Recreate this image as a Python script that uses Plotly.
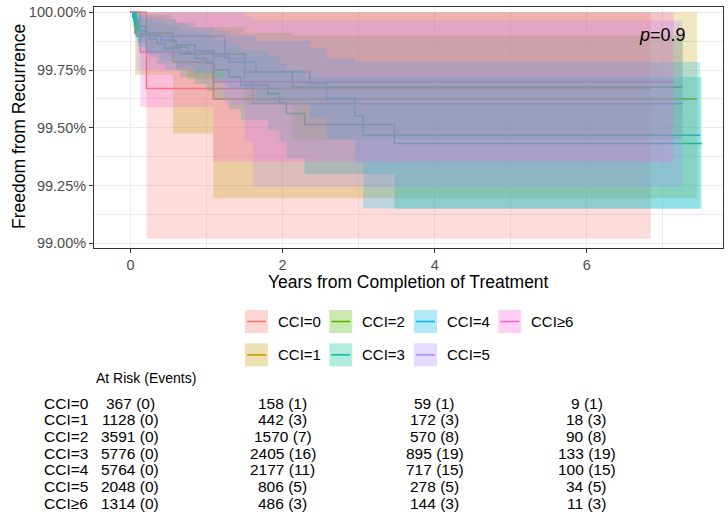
import plotly.graph_objects as go

# ---------------- data ----------------
groups = ["CCI=0", "CCI=1", "CCI=2", "CCI=3", "CCI=4", "CCI=5", "CCI≥6"]
colors = ["#F8766D", "#C49A00", "#53B400", "#00C094", "#00B6EB", "#A58AFF", "#FB61D7"]

# step times (years) and survival (%), CI lower / upper at each step
t_cci0 = [0, 0.21]
s_cci0 = [100, 99.67]
lo_cci0 = [100, 99.02]
hi_cci0 = [100, 100]
end_cci0 = 6.84

t_cci1 = [0, 0.06, 0.56, 1.09]
s_cci1 = [100, 99.908, 99.785, 99.625]
lo_cci1 = [100, 99.73, 99.476, 99.195]
hi_cci1 = [100, 100, 100, 100]
end_cci1 = 7.45

t_cci2 = [0, 0.05, 0.10, 0.20, 0.55, 0.60, 0.75, 1.50, 2.13]
s_cci2 = [100, 99.97, 99.94, 99.91, 99.875, 99.85, 99.82, 99.742, 99.677]
lo_cci2 = [100, 99.91, 99.87, 99.83, 99.79, 99.75, 99.71, 99.60, 99.45]
hi_cci2 = [100, 100, 100, 99.99, 99.97, 99.955, 99.935, 99.91, 99.90]
end_cci2 = 7.26

t_cci3 = [0, 0.04, 0.06, 0.10, 0.15, 0.25, 0.35, 0.45, 0.65, 0.85, 1.00, 1.10, 1.30, 1.45,
          1.81, 1.96, 2.05, 2.29, 3.47]
s_cci3 = [100, 99.975, 99.95, 99.925, 99.905, 99.885, 99.865, 99.845, 99.82, 99.80, 99.78,
          99.75, 99.72, 99.684, 99.648, 99.608, 99.562, 99.514, 99.432]
lo_cci3 = [100, 99.93, 99.90, 99.865, 99.835, 99.805, 99.775, 99.75, 99.72, 99.69, 99.66,
           99.62, 99.58, 99.534, 99.49, 99.44, 99.37, 99.30, 99.15]
hi_cci3 = [100, 100, 100, 99.985, 99.975, 99.965, 99.955, 99.94, 99.92, 99.91, 99.90,
           99.88, 99.86, 99.834, 99.81, 99.78, 99.75, 99.72, 99.72]
end_cci3 = 7.51

t_cci4 = [0, 0.03, 0.05, 0.08, 0.10, 0.22, 0.40, 0.60, 0.85, 1.10, 1.30, 1.65, 2.36, 2.58,
          2.95, 3.06]
s_cci4 = [100, 99.98, 99.96, 99.94, 99.92, 99.90, 99.88, 99.86, 99.835, 99.81, 99.785,
          99.742, 99.692, 99.627, 99.55, 99.468]
lo_cci4 = [100, 99.94, 99.91, 99.88, 99.85, 99.82, 99.79, 99.765, 99.735, 99.70, 99.67,
           99.61, 99.54, 99.45, 99.35, 99.151]
hi_cci4 = [100, 100, 100, 100, 99.99, 99.98, 99.97, 99.955, 99.935, 99.92, 99.90,
           99.875, 99.845, 99.80, 99.785, 99.785]
end_cci4 = 7.49

t_cci5 = [0, 0.08, 1.24, 1.50, 1.61]
s_cci5 = [100, 99.896, 99.80, 99.70, 99.604]
lo_cci5 = [100, 99.75, 99.60, 99.44, 99.245]
hi_cci5 = [100, 100, 100, 99.98, 99.965]
end_cci5 = 7.26

t_cci6 = [0, 0.13, 1.09]
s_cci6 = [100, 99.828, 99.70]
lo_cci6 = [100, 99.59, 99.353]
hi_cci6 = [100, 100, 100]
end_cci6 = 7.14

curves = [
    (t_cci0, s_cci0, lo_cci0, hi_cci0, end_cci0),
    (t_cci1, s_cci1, lo_cci1, hi_cci1, end_cci1),
    (t_cci2, s_cci2, lo_cci2, hi_cci2, end_cci2),
    (t_cci3, s_cci3, lo_cci3, hi_cci3, end_cci3),
    (t_cci4, s_cci4, lo_cci4, hi_cci4, end_cci4),
    (t_cci5, s_cci5, lo_cci5, hi_cci5, end_cci5),
    (t_cci6, s_cci6, lo_cci6, hi_cci6, end_cci6),
]

# risk table
risk_times = [0, 2, 4, 6]
at_risk = [
    [367, 158, 59, 9],
    [1128, 442, 172, 18],
    [3591, 1570, 570, 90],
    [5776, 2405, 895, 133],
    [5764, 2177, 717, 100],
    [2048, 806, 278, 34],
    [1314, 486, 144, 11],
]
events = [
    [0, 1, 1, 1],
    [0, 3, 3, 3],
    [0, 7, 8, 8],
    [0, 16, 19, 19],
    [0, 11, 15, 15],
    [0, 5, 5, 5],
    [0, 3, 3, 3],
]
p_text = "<i>p</i>=0.9"
x_title = "Years from Completion of Treatment"
y_title = "Freedom from Recurrence"

# ---------------- figure ----------------
W, H = 728, 517
ML, MR, MT, MB = 94, 5, 7, 269
FONT = "Liberation Sans, Arial, sans-serif"


def rgba(hexc, a):
    h = hexc.lstrip("#")
    r, g, b = int(h[0:2], 16), int(h[2:4], 16), int(h[4:6], 16)
    return f"rgba({r},{g},{b},{a})"


def ppx(px):
    return (px - ML) / (W - ML - MR)


def ppy(py):
    return (H - MB - py) / (H - MT - MB)


fig = go.Figure()

# step curves (drawn first; survminer puts ribbons on top)
for (t, s, lo, hi, end), name, col in zip(curves, groups, colors):
    fig.add_trace(go.Scatter(x=t + [end], y=s + [s[-1]], mode="lines",
                             line=dict(color=col, width=1.5, shape="hv"),
                             name=name, showlegend=False, hoverinfo="skip"))

# confidence ribbons
for (t, s, lo, hi, end), name, col in zip(curves, groups, colors):
    fig.add_trace(go.Scatter(x=t + [end], y=lo + [lo[-1]], mode="lines",
                             line=dict(width=0, shape="hv", color=col),
                             showlegend=False, hoverinfo="skip"))
    fig.add_trace(go.Scatter(x=t + [end], y=hi + [hi[-1]], mode="lines",
                             line=dict(width=0, shape="hv", color=col),
                             fill="tonexty", fillcolor=rgba(col, 0.25),
                             showlegend=False, hoverinfo="skip"))

fig.add_annotation(x=7.0, y=99.90, xref="x", yref="y", text=p_text, showarrow=False,
                   font=dict(size=18, color="black", family=FONT))

# axis titles
fig.add_annotation(x=ppx(408.5), y=ppy(282), xref="paper", yref="paper", text=x_title,
                   showarrow=False, xanchor="center", yanchor="middle",
                   font=dict(size=17.5, color="black", family=FONT))
fig.add_annotation(x=ppx(19), y=ppy(127), xref="paper", yref="paper", text=y_title,
                   showarrow=False, xanchor="center", yanchor="middle", textangle=-90,
                   font=dict(size=17.5, color="black", family=FONT))

# legend (custom keys)
leg_cols_px = [245, 329.3, 414, 498.3]
leg_rows_py = [310, 343.3]
order = [(0, 0), (1, 0), (0, 1), (1, 1), (0, 2), (1, 2), (0, 3)]  # (row, col) per group
for gi, (r, c) in enumerate(order):
    x0 = leg_cols_px[c]
    y0 = leg_rows_py[r]
    fig.add_shape(type="rect", xref="paper", yref="paper",
                  x0=ppx(x0), x1=ppx(x0 + 23), y0=ppy(y0 + 23), y1=ppy(y0),
                  fillcolor=rgba(colors[gi], 0.3), line=dict(width=0))
    fig.add_shape(type="line", xref="paper", yref="paper",
                  x0=ppx(x0 + 2), x1=ppx(x0 + 21), y0=ppy(y0 + 11.5), y1=ppy(y0 + 11.5),
                  line=dict(color=colors[gi], width=1.5))
    fig.add_annotation(x=ppx(x0 + 31), y=ppy(y0 + 11.5), xref="paper", yref="paper",
                       text=groups[gi], showarrow=False, xanchor="left", yanchor="middle",
                       font=dict(size=15, color="black", family=FONT))

# risk table
fig.add_annotation(x=ppx(94), y=ppy(378), xref="paper", yref="paper",
                   text="At Risk (Events)", showarrow=False, xanchor="left", yanchor="middle",
                   font=dict(size=14, color="black", family=FONT))
row0, dy = 403.3, 16.67
for gi, name in enumerate(groups):
    yy = ppy(row0 + gi * dy)
    fig.add_annotation(x=ppx(42), y=yy, xref="paper", yref="paper", text=name,
                       showarrow=False, xanchor="left", yanchor="middle",
                       font=dict(size=15.5, color="black", family=FONT))
    for ti, tt in enumerate(risk_times):
        fig.add_annotation(x=tt, y=yy, xref="x", yref="paper",
                           text=f"{at_risk[gi][ti]} ({events[gi][ti]})",
                           showarrow=False, xanchor="center", yanchor="middle",
                           font=dict(size=15.5, color="black", family=FONT))

grid = "#EBEBEB"
fig.update_layout(
    width=W, height=H, margin=dict(l=ML, r=MR, t=MT, b=MB, autoexpand=False),
    paper_bgcolor="white", plot_bgcolor="white",
    font=dict(family=FONT, color="black"),
    showlegend=False,
    xaxis=dict(range=[-0.479, 7.79], tick0=0, dtick=2, ticks="outside", ticklen=4,
               tickcolor="#333333", tickfont=dict(size=14.5, color="#4D4D4D"),
               showgrid=True, gridcolor=grid, gridwidth=1.1, zeroline=False,
               minor=dict(dtick=1, showgrid=True, gridcolor=grid, gridwidth=0.55),
               showline=True, mirror=True, linecolor="#333333", linewidth=1,
               automargin=False),
    yaxis=dict(range=[98.98, 100.023], tick0=99, dtick=0.25, ticks="outside", ticklen=4,
               tickcolor="#333333", tickfont=dict(size=14.5, color="#4D4D4D"),
               tickformat=".2f", ticksuffix="%",
               showgrid=True, gridcolor=grid, gridwidth=1.1, zeroline=False,
               minor=dict(dtick=0.125, showgrid=True, gridcolor=grid, gridwidth=0.55),
               showline=True, mirror=True, linecolor="#333333", linewidth=1,
               automargin=False),
)

fig.write_html("out.html", config={"displayModeBar": False},
               post_script="document.body.style.margin='0px';document.body.style.overflow='hidden';")
